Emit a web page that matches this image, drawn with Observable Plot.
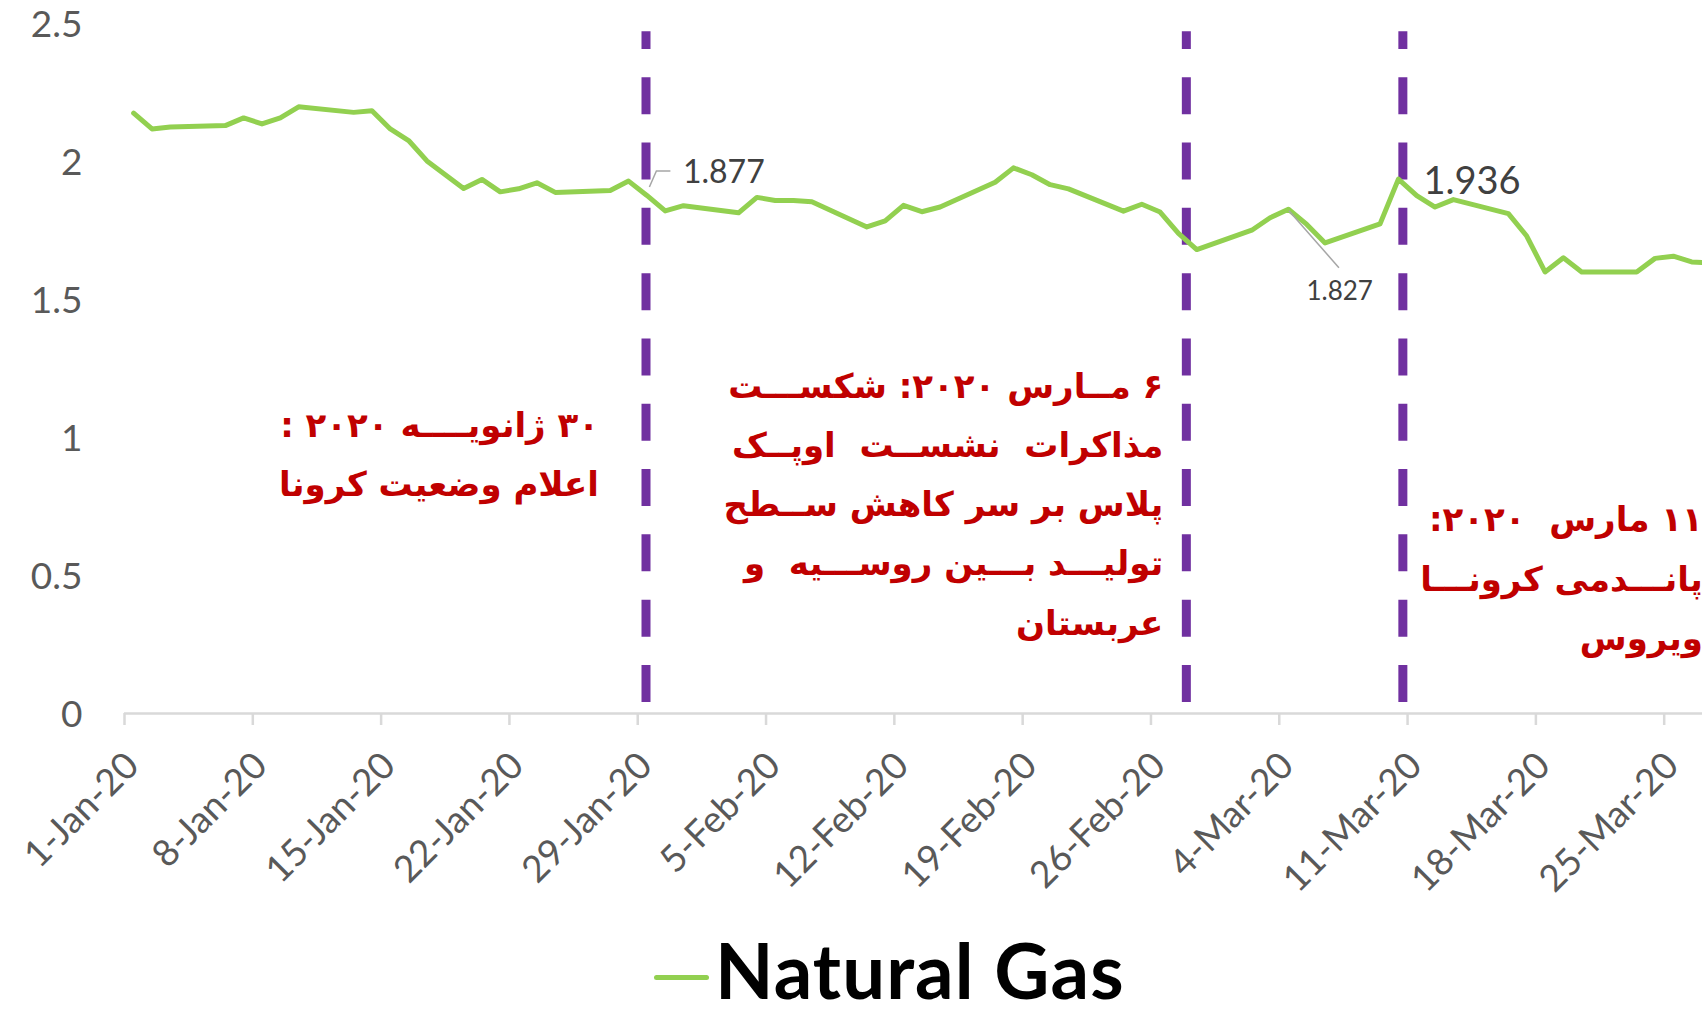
<!DOCTYPE html>
<html><head><meta charset="utf-8">
<script src="https://cdn.jsdelivr.net/npm/d3@7"></script>
<script src="https://cdn.jsdelivr.net/npm/@observablehq/plot@0.6"></script>
<style>
html,body{margin:0;padding:0;background:#fff;overflow:hidden;width:1702px;height:1014px}
#chart svg{display:block}
#legend{position:relative;height:89px;width:1702px}
#legend .sw{position:absolute;left:654px;top:50px;width:55px;height:5px;background:#92D050;border-radius:3px}
#legend .lbl{position:absolute;left:715px;top:7px;font:bold 76px Lato,sans-serif;letter-spacing:1.1px;line-height:1;color:#000;white-space:nowrap}
</style></head><body>
<div id="chart"></div>
<div id="legend"><div class="sw"></div><div class="lbl">Natural Gas</div></div>
<script>
// ---- data ----
const dates = [
  "2020-01-01","2020-01-02","2020-01-03","2020-01-06","2020-01-07","2020-01-08","2020-01-09","2020-01-10",
  "2020-01-13","2020-01-14","2020-01-15","2020-01-16","2020-01-17","2020-01-19","2020-01-20","2020-01-21",
  "2020-01-22","2020-01-23","2020-01-24","2020-01-27","2020-01-28","2020-01-29","2020-01-30","2020-01-31",
  "2020-02-03","2020-02-04","2020-02-05","2020-02-06","2020-02-07","2020-02-10","2020-02-11","2020-02-12",
  "2020-02-13","2020-02-14","2020-02-17","2020-02-18","2020-02-19","2020-02-20","2020-02-21","2020-02-24",
  "2020-02-25","2020-02-26","2020-02-27","2020-02-28","2020-03-02","2020-03-03","2020-03-04","2020-03-05",
  "2020-03-06","2020-03-09","2020-03-10","2020-03-11","2020-03-12","2020-03-13","2020-03-16","2020-03-17",
  "2020-03-18","2020-03-19","2020-03-20","2020-03-23","2020-03-24","2020-03-25","2020-03-26","2020-03-27"
];
const values = [
  2.175,2.118,2.125,2.130,2.158,2.136,2.158,2.198,
  2.178,2.184,2.118,2.076,2.002,1.902,1.935,1.890,
  1.901,1.923,1.888,1.895,1.929,1.877,1.821,1.840,
  1.814,1.870,1.859,1.859,1.854,1.763,1.785,1.841,
  1.818,1.835,1.925,1.977,1.952,1.916,1.901,1.820,
  1.845,1.817,1.740,1.681,1.751,1.796,1.827,1.772,
  1.705,1.774,1.936,1.876,1.835,1.862,1.811,1.730,
  1.600,1.651,1.600,1.600,1.649,1.657,1.636,1.633
];
const tickDates = ["2020-01-01","2020-01-08","2020-01-15","2020-01-22","2020-01-29","2020-02-05","2020-02-12",
  "2020-02-19","2020-02-26","2020-03-04","2020-03-11","2020-03-18","2020-03-25"];
const yTicks = [0, 0.5, 1, 1.5, 2, 2.5];
const eventDates = ["2020-01-29T10:50Z","2020-02-27T22:20Z","2020-03-10T17:50Z"];
const eventTexts = [
  ["۳۰ ژانویــــه ۲۰۲۰ :", "اعلام وضعیت کرونا"],
  ["۶ مــارس ۲۰۲۰: شکســـت", "مذاکرات  نشســت  اوپــک", "پلاس بر سر کاهش ســطح", "تولیـــد بـــین روســـیه  و", "عربستان"],
  ["۱۱ مارس  ۲۰۲۰:", "پانـــدمی کرونـــا", "ویروس"]
];
const labelDates = ["2020-01-29","2020-03-04","2020-03-10"];
const labelTexts = ["1.877","1.827","1.936"];
const seriesName = "Natural Gas";

// ---- build ----
const at = s => new Date(s + "T12:00:00Z");
const day = s => new Date(s + "T00:00:00Z");
const data = dates.map((d, i) => ({date: at(d), value: values[i]}));
const events = eventDates.map((d, i) => ({date: new Date(d), text: eventTexts[i]}));
const labels = labelDates.map((d, i) => ({date: at(d), value: values[dates.indexOf(d)], text: labelTexts[i]}));
const fmt = d3.utcFormat("%-d-%b-%y");
const rtl = lines => lines.map(l => "\u202B" + l + "\u202C").join("\n");

function leader(datum, offsets) {
  return Plot.dot([datum], {x: "date", y: "value", r: 0,
    render(index, scales) {
      const px = scales.x(datum.date), py = scales.y(datum.value);
      const g = d3.create("svg:g");
      g.append("path").attr("d", d3.line()(offsets.map(([dx, dy]) => [px + dx, py + dy])))
        .attr("fill", "none").attr("stroke", "#a6a6a6").attr("stroke-width", 1.5);
      return g.node();
    }});
}

const annFont = {fontFamily: "DejaVu Sans", fontWeight: "bold", fill: "#C00000", fontSize: 34, textAnchor: "end", lineAnchor: "middle", lineHeight: 1.74};

const chart = Plot.plot({
  width: 1702, height: 925,
  marginLeft: 124, marginRight: 0, marginTop: 23, marginBottom: 212,
  style: {fontFamily: "Lato, sans-serif", background: "#fff", overflow: "hidden"},
  x: {type: "utc", domain: [day("2020-01-01"), new Date("2020-03-27T02:10:00Z")]},
  y: {domain: [0, 2.5]},
  marks: [
    Plot.axisY(yTicks, {tickSize: 0, tickPadding: 42, fontSize: 37, fill: "#595959", tickFormat: d => String(d), label: null, dy: 2}),
    Plot.ruleY([0], {stroke: "#d9d9d9", strokeWidth: 2.5}),
    Plot.axisX(tickDates.map(day), {tickSize: 12, stroke: "#d9d9d9", strokeWidth: 2.5, fill: "none", tickFormat: () => "", label: null}),
    Plot.axisX(tickDates.map(day), {tickSize: 0, tickPadding: 46, fill: "#595959",
      fontSize: 37, tickRotate: -45, tickFormat: fmt, label: null, dx: 8}),
    Plot.ruleX(events, {x: "date", y1: 0.04, y2: 2.47, stroke: "#7030A0", strokeWidth: 9, strokeDasharray: "37 28.3"}),
    Plot.line(data, {x: "date", y: "value", stroke: "#92D050", strokeWidth: 5, strokeLinejoin: "round", strokeLinecap: "round", clip: true}),
    leader(labels[0], [[3, -8], [10, -24], [24, -24]]),
    leader(labels[1], [[1, 2], [51, 59]]),
    Plot.text([labels[0]], {x: "date", y: "value", text: "text", dx: 36, dy: -23, textAnchor: "start", fontSize: 32, fill: "#404040"}),
    Plot.text([labels[1]], {x: "date", y: "value", text: "text", dx: 18, dy: 82, textAnchor: "start", fontSize: 26, fill: "#404040"}),
    Plot.text([labels[2]], {x: "date", y: "value", text: "text", dx: 25, dy: 3, textAnchor: "start", fontSize: 38, fill: "#404040"}),
    Plot.text([events[0]], {x: "date", y: 0.963, text: d => rtl(d.text), dx: -47, ...annFont}),
    Plot.text([events[1]], {x: "date", y: 0.783, text: d => rtl(d.text), dx: -23, ...annFont}),
    Plot.text([events[2]], {x: "date", y: 0.514, text: d => rtl(d.text), dx: 300, ...annFont})
  ]
});
document.getElementById("chart").appendChild(chart);
document.querySelector("#legend .lbl").textContent = seriesName;
</script>
</body></html>
